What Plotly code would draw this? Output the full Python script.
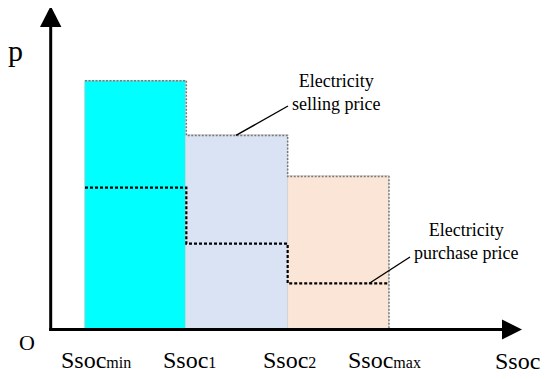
import plotly.graph_objects as go

# ---- data ----
edges = [1, 2, 3, 4]                      # Ssoc_min, Ssoc1, Ssoc2, Ssoc_max
centers = [1.5, 2.5, 3.5]
selling = [100, 78, 61.5]                 # electricity selling price per band
purchase = [57, 34.5, 18.5]               # electricity purchase price per band
tick_labels = ["Ssoc<span style='font-size:16px'>min</span>",
               "Ssoc<span style='font-size:16px'>1</span>",
               "Ssoc<span style='font-size:16px'>2</span>",
               "Ssoc<span style='font-size:16px'>max</span>"]
bar_colors = ["#00FFFF", "#DAE3F3", "#FBE5D6"]

# ---- page pixel -> data helpers for decorations (page has 8px body margin) ----
OFF = 8
W, H = 550 - OFF, 379 - OFF
def ux(px):
    return 1 + (px - 85) / 101.33
def vy(py):
    return (329.5 - py) / 2.488

FONT = "Liberation Serif, DejaVu Serif, Times New Roman, serif"

fig = go.Figure()
fig.add_trace(go.Bar(x=centers, y=selling, width=1, marker_color=bar_colors,
                     marker_line_color="#cfcfcf", marker_line_width=0.8,
                     showlegend=False, hoverinfo="skip"))
# selling price outline (dotted gray)
fig.add_trace(go.Scatter(x=edges + [edges[-1]], y=selling + [selling[-1], 0],
                         mode="lines", line_shape="hv",
                         line=dict(color="#7a7a7a", width=1.5, dash="2px,1.5px"),
                         showlegend=False, hoverinfo="skip"))
# purchase price step (dotted black)
fig.add_trace(go.Scatter(x=edges, y=purchase + [purchase[-1]],
                         mode="lines", line_shape="hv",
                         line=dict(color="black", width=2.2, dash="3px,2px"),
                         showlegend=False, hoverinfo="skip"))

shapes = []
# axes
shapes.append(dict(type="line", x0=ux(50.7), x1=ux(50.7), y0=vy(331), y1=vy(24),
                   line=dict(color="black", width=3)))
shapes.append(dict(type="line", x0=ux(49.2), x1=ux(505), y0=0, y1=0,
                   line=dict(color="black", width=3)))
# arrowheads
shapes.append(dict(type="path",
                   path=f"M {ux(50.7)} {vy(6)} L {ux(40)} {vy(27)} L {ux(61.4)} {vy(27)} Z",
                   fillcolor="black", line=dict(color="black", width=0)))
shapes.append(dict(type="path",
                   path=f"M {ux(522)} {vy(329.5)} L {ux(502)} {vy(319.5)} L {ux(502)} {vy(339.5)} Z",
                   fillcolor="black", line=dict(color="black", width=0)))
# leader lines
shapes.append(dict(type="line", x0=centers[1] - 0.01, y0=selling[1], x1=ux(288), y1=vy(106),
                   line=dict(color="black", width=1.4)))
shapes.append(dict(type="line", x0=ux(369), y0=purchase[2], x1=ux(410), y1=vy(257),
                   line=dict(color="black", width=1.4)))

ann = []
ann.append(dict(x=ux(15), y=vy(50), text="p", showarrow=False,
                font=dict(family=FONT, size=30, color="black")))
ann.append(dict(x=ux(27), y=vy(342), text="O", showarrow=False,
                font=dict(family=FONT, size=22, color="black")))
shifts = [11, 3, 2, -4]
for e, t, s in zip(edges, tick_labels, shifts):
    ann.append(dict(x=e, y=vy(360), text=t, showarrow=False, xshift=s,
                    font=dict(family=FONT, size=24, color="black")))
ann.append(dict(x=ux(517), y=vy(361), text="Ssoc", showarrow=False,
                font=dict(family=FONT, size=24, color="black")))
ann.append(dict(x=ux(336), y=vy(92), text="Electricity<br>selling price", showarrow=False,
                font=dict(family=FONT, size=18, color="black")))
ann.append(dict(x=ux(466), y=vy(241), text="Electricity<br>purchase price", showarrow=False,
                font=dict(family=FONT, size=18, color="black")))

# data-axis range chosen so that page pixel p maps to figure pixel p - OFF
fig.update_layout(
    width=W, height=H, margin=dict(l=0, r=0, t=0, b=0),
    paper_bgcolor="white", plot_bgcolor="white",
    font=dict(family=FONT),
    xaxis=dict(range=[ux(OFF), ux(550)], visible=False, fixedrange=True),
    yaxis=dict(range=[vy(379), vy(OFF)], visible=False, fixedrange=True),
    shapes=shapes, annotations=ann, bargap=0,
)
fig.write_html("out.html")
